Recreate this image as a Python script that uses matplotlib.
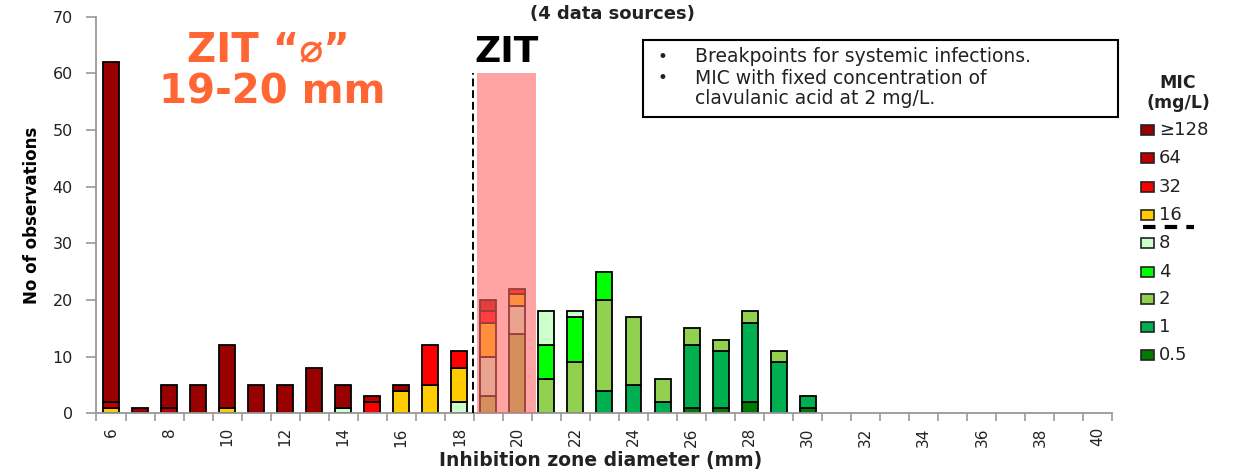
import matplotlib
matplotlib.use("Agg")
import numpy as np
import matplotlib.pyplot as plt
from matplotlib.patches import Rectangle
from matplotlib.lines import Line2D

plt.rcParams['font.family'] = ['DejaVu Sans']

# zone diameters (mm)
mm = [6, 7, 8, 9, 10, 11, 12, 13, 14, 15, 16, 17, 18, 19, 20, 21, 22, 23,
      24, 25, 26, 27, 28, 29, 30, 31, 32, 33, 34, 35, 36, 37, 38, 39, 40]

# counts per MIC level (bottom of stack first)
mic_05 = [0, 0, 0, 0, 0, 0, 0, 0, 0, 0, 0, 0, 0, 0, 0, 0, 0, 0,
          0, 0, 1, 1, 2, 0, 1, 0, 0, 0, 0, 0, 0, 0, 0, 0, 0]
mic_1 = [0, 0, 0, 0, 0, 0, 0, 0, 0, 0, 0, 0, 0, 0, 0, 0, 0, 4,
         5, 2, 11, 10, 14, 9, 2, 0, 0, 0, 0, 0, 0, 0, 0, 0, 0]
mic_2 = [0, 0, 0, 0, 0, 0, 0, 0, 0, 0, 0, 0, 0, 3, 14, 6, 9, 16,
         12, 4, 3, 2, 2, 2, 0, 0, 0, 0, 0, 0, 0, 0, 0, 0, 0]
mic_4 = [0, 0, 0, 0, 0, 0, 0, 0, 0, 0, 0, 0, 0, 0, 0, 6, 8, 5,
         0, 0, 0, 0, 0, 0, 0, 0, 0, 0, 0, 0, 0, 0, 0, 0, 0]
mic_8 = [0, 0, 0, 0, 0, 0, 0, 0, 1, 0, 0, 0, 2, 7, 5, 6, 1, 0,
         0, 0, 0, 0, 0, 0, 0, 0, 0, 0, 0, 0, 0, 0, 0, 0, 0]
mic_16 = [1, 0, 0, 0, 1, 0, 0, 0, 0, 0, 4, 5, 6, 6, 2, 0, 0, 0,
          0, 0, 0, 0, 0, 0, 0, 0, 0, 0, 0, 0, 0, 0, 0, 0, 0]
mic_32 = [0, 0, 0, 0, 0, 0, 0, 0, 0, 2, 0, 7, 3, 2, 1, 0, 0, 0,
          0, 0, 0, 0, 0, 0, 0, 0, 0, 0, 0, 0, 0, 0, 0, 0, 0]
mic_64 = [1, 0, 1, 0, 0, 0, 0, 0, 0, 1, 0, 0, 0, 2, 0, 0, 0, 0,
          0, 0, 0, 0, 0, 0, 0, 0, 0, 0, 0, 0, 0, 0, 0, 0, 0]
mic_128 = [60, 1, 4, 5, 11, 5, 5, 8, 4, 0, 1, 0, 0, 0, 0, 0, 0, 0,
           0, 0, 0, 0, 0, 0, 0, 0, 0, 0, 0, 0, 0, 0, 0, 0, 0]

series = [mic_05, mic_1, mic_2, mic_4, mic_8, mic_16, mic_32, mic_64, mic_128]
labels = ['0.5', '1', '2', '4', '8', '16', '32', '64', '\u2265128']
colors = ['#007A00', '#00B050', '#92D050', '#00FF00', '#CCFFCC',
          '#FFCC00', '#FF0000', '#C00000', '#990000']

W, H = 1234, 472
fig = plt.figure(figsize=(W / 100, H / 100), dpi=100)
ax = fig.add_axes([0.0782, 0.1244, 0.8233, 0.8402])

x = np.array(mm)
bottom = np.zeros(len(mm))
for vals, c in zip(series, colors):
    v = np.array(vals, dtype=float)
    m = v > 0
    ax.bar(x[m], v[m], bottom=bottom[m], width=0.55, color=c,
           edgecolor='black', linewidth=1.3, zorder=2)
    bottom += v

# ZIT shaded zone
ax.add_patch(Rectangle((18.62, 0), 2.02, 60, facecolor='#FF6666', alpha=0.6,
                       linewidth=0, zorder=3))
ax.plot([18.47, 18.47], [0, 60], color='black', linestyle=(0, (4, 2)),
        linewidth=1.4, zorder=4)

ax.set_xlim(5.5, 40.5)
ax.set_ylim(0, 70)
ax.set_yticks(range(0, 71, 10))
ax.set_xticks(range(6, 41, 2))
ax.set_xticks(np.arange(5.5, 41, 1), minor=True)
ax.tick_params(axis='x', which='major', length=0, labelrotation=90,
               labelsize=11, pad=10, labelcolor='#222222')
ax.tick_params(axis='x', which='minor', length=6, color='#999999', width=1.2)
ax.tick_params(axis='y', length=7, color='#999999', width=1.2, labelsize=11.5,
               pad=10, labelcolor='#222222')
for s in ['top', 'right']:
    ax.spines[s].set_visible(False)
for s in ['left', 'bottom']:
    ax.spines[s].set_color('#999999')
    ax.spines[s].set_linewidth(1.3)

ax.set_ylabel('No of observations', fontsize=12, fontweight='bold',
              labelpad=8)
fig.text(0.487, 0.004, 'Inhibition zone diameter (mm)', ha='center',
         va='bottom', fontsize=13.5, fontweight='bold', color='#222222')
fig.text(0.496, 0.97, '(4 data sources)', ha='center', va='center',
         fontsize=13, fontweight='bold', color='#222222')

fig.text(507 / W, 1 - 52 / H, 'ZIT', ha='center', va='center', fontsize=26,
         fontweight='bold', color='black')

orange = '#FF6633'
fig.text(268 / W, 1 - 50 / H, 'ZIT \u201c\u2300\u201d', ha='center',
         va='center', fontsize=29, fontweight='bold', color=orange)
fig.text(272 / W, 1 - 93 / H, '19-20 mm', ha='center', va='center',
         fontsize=29, fontweight='bold', color=orange)

# note box
fig.patches.append(Rectangle((643 / W, 1 - 117 / H), 475 / W, 77 / H,
                             transform=fig.transFigure, facecolor='white',
                             edgecolor='black', linewidth=1.5))
notes = ['Breakpoints for systemic infections.',
         'MIC with fixed concentration of',
         'clavulanic acid at 2 mg/L.']
note_y = [57, 78, 98]
for i, (t, yy) in enumerate(zip(notes, note_y)):
    if i < 2:
        fig.text(657 / W, 1 - yy / H, '\u2022', ha='left', va='center',
                 fontsize=12, color='#222222')
    fig.text(695 / W, 1 - yy / H, t, ha='left', va='center',
             fontsize=13.5, color='#222222')

# legend
fig.text(1178 / W, 1 - 83 / H, 'MIC', ha='center', va='center',
         fontsize=12.5, fontweight='bold', color='#222222')
fig.text(1178 / W, 1 - 103 / H, '(mg/L)', ha='center', va='center',
         fontsize=12.5, fontweight='bold', color='#222222')
leg_y = [130, 158, 187, 215, 243, 272, 299, 327, 355]
for lab, c, yy in zip(labels[::-1], colors[::-1], leg_y):
    fig.patches.append(Rectangle((1141 / W, 1 - (yy + 5) / H), 13 / W,
                                 10 / H, transform=fig.transFigure,
                                 facecolor=c, edgecolor='#222222',
                                 linewidth=1.2))
    fig.text(1159 / W, 1 - yy / H, lab, ha='left', va='center',
             fontsize=13, color='#222222')
fig.lines.append(Line2D([1143 / W, 1194 / W], [1 - 227 / H, 1 - 227 / H],
                        transform=fig.transFigure, color='black',
                        linewidth=3, linestyle=(0, (3, 2.2))))

fig.savefig('out.png', dpi=100)
